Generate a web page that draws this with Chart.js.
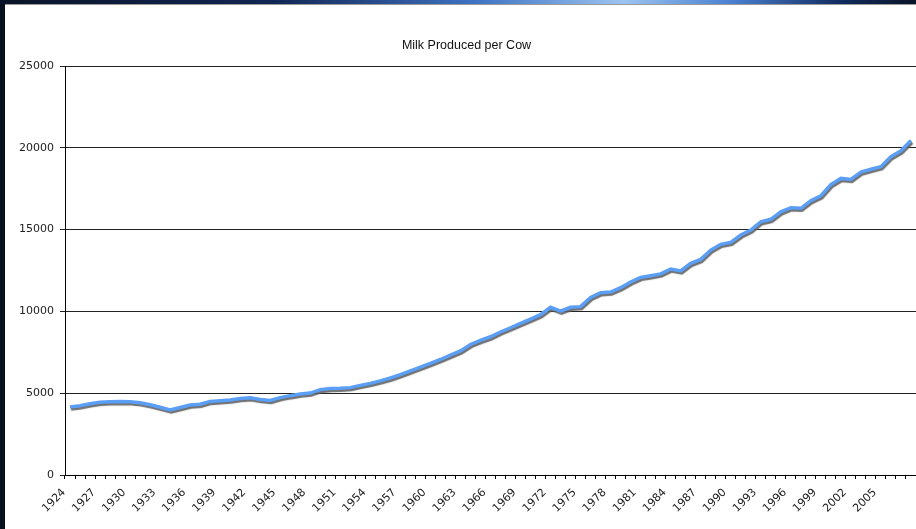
<!DOCTYPE html>
<html>
<head>
<meta charset="utf-8">
<title>Milk Produced per Cow</title>
<script src="https://cdn.jsdelivr.net/npm/chart.js@4.4.0/dist/chart.umd.min.js"></script>
<style>
    html, body { margin: 0; padding: 0; width: 916px; height: 529px; overflow: hidden; background: #07101f; }
    #band {
        position: absolute; left: 0; top: 0; width: 916px; height: 4px;
        background: linear-gradient(to right, #0a1428 0%, #112654 30%, #3f73c4 52%, #9cc4f0 68%, #4a7fd0 80%, #102a5c 92%, #0a1428 100%);
    }
    #frame { position: absolute; left: 5px; top: 4px; width: 911px; height: 524px; background: #fff; border-top: 1px solid #9a9a9a; }
    canvas { display: block; }
</style>
</head>
<body>
<div id="band"></div>
<div id="frame"><canvas id="milk-chart" width="911" height="524"></canvas></div>
<script>
// Năm (trục x)
const years = [
    '1924','1925','1926','1927','1928','1929','1930','1931','1932','1933',
    '1934','1935','1936','1937','1938','1939','1940','1941','1942','1943',
    '1944','1945','1946','1947','1948','1949','1950','1951','1952','1953',
    '1954','1955','1956','1957','1958','1959','1960','1961','1962','1963',
    '1964','1965','1966','1967','1968','1969','1970','1971','1972','1973',
    '1974','1975','1976','1977','1978','1979','1980','1981','1982','1983',
    '1984','1985','1986','1987','1988','1989','1990','1991','1992','1993',
    '1994','1995','1996','1997','1998','1999','2000','2001','2002','2003',
    '2004','2005','2006','2007','2008'
];

// Sản lượng sữa mỗi con bò, theo năm
const milkPerCow = [
    4150, 4230, 4350, 4440, 4470, 4500, 4480, 4420, 4290, 4140,
    3980, 4130, 4280, 4330, 4500, 4540, 4590, 4680, 4720, 4620,
    4560, 4730, 4850, 4950, 5010, 5220, 5280, 5300, 5340, 5480,
    5600, 5750, 5930, 6130, 6360, 6600, 6820, 7060, 7330, 7580,
    7980, 8230, 8450, 8740, 9000, 9270, 9530, 9800, 10250, 10020,
    10250, 10290, 10850, 11140, 11180, 11450, 11800, 12080, 12180, 12290,
    12590, 12470, 12940, 13180, 13750, 14100, 14220, 14670, 14970, 15480,
    15630, 16090, 16340, 16300, 16770, 17070, 17750, 18130, 18070, 18520,
    18690, 18840, 19460, 19820, 20450
];

// Nhãn hiển thị trên trục x (mỗi 3 năm)
const tickYears = [
    '1924','1927','1930','1933','1936','1939','1942','1945','1948','1951',
    '1954','1957','1960','1963','1966','1969','1972','1975','1978','1981',
    '1984','1987','1990','1993','1996','1999','2002','2005'
];

const yTicks = [0, 5000, 10000, 15000, 20000, 25000];

const chartTitle = 'Milk Produced per Cow';

// Bóng xám dưới đường
const lineShadow = {
    id: 'lineShadow',
    beforeDatasetDraw(chart) {
        const c = chart.ctx;
        c.save();
        c.shadowColor = 'rgba(95, 95, 95, 0.9)';
        c.shadowOffsetX = 1;
        c.shadowOffsetY = 2;
        c.shadowBlur = 1;
    },
    afterDatasetDraw(chart) {
        chart.ctx.restore();
    }
};

// Tiêu đề vẽ tay, hơi lệch phải so với giữa canvas
const centerTitle = {
    id: 'centerTitle',
    afterDraw(chart) {
        const c = chart.ctx;
        c.save();
        c.font = '12.5px "Liberation Sans", Arial, sans-serif';
        c.fillStyle = '#111';
        c.textAlign = 'center';
        c.textBaseline = 'middle';
        c.fillText(chartTitle, chart.width / 2 + 6, 41);
        c.restore();
    }
};

Chart.defaults.font.family = '"DejaVu Sans", Verdana, sans-serif';

const ctx = document.getElementById('milk-chart').getContext('2d');
new Chart(ctx, {
    type: 'line',
    data: {
        labels: years,
        datasets: [{
            data: milkPerCow,
            borderColor: '#5b9ef5',
            borderWidth: 3.5,
            pointRadius: 0,
            tension: 0,
            fill: false
        }]
    },
    plugins: [lineShadow, centerTitle],
    options: {
        responsive: false,
        animation: false,
        devicePixelRatio: 1,
        layout: { padding: { top: 61, left: 0, right: 0, bottom: 0 } },
        plugins: {
            legend: { display: false },
            tooltip: { enabled: false },
            title: { display: false }
        },
        scales: {
            x: {
                offset: true,
                grid: { offset: true, drawOnChartArea: false, color: '#000', tickLength: 4 },
                border: { color: '#000' },
                ticks: {
                    autoSkip: false,
                    maxRotation: 45,
                    minRotation: 45,
                    color: '#222',
                    font: { size: 11 },
                    padding: 7,
                    labelOffset: -6,
                    callback: (v, i) => tickYears.includes(years[i]) ? years[i] : ''
                },
                afterFit: (s) => { s.height = 54; s.paddingRight = 0; }
            },
            y: {
                min: yTicks[0],
                max: yTicks[yTicks.length - 1],
                afterBuildTicks: (s) => { s.ticks = yTicks.map(v => ({ value: v })); },
                ticks: { color: '#222', font: { size: 11 }, padding: 6, callback: (v) => String(v) },
                grid: { color: '#222', tickLength: 5 },
                border: { color: '#000' },
                afterFit: (s) => { s.width = 60; }
            }
        }
    }
});
</script>
</body>
</html>
